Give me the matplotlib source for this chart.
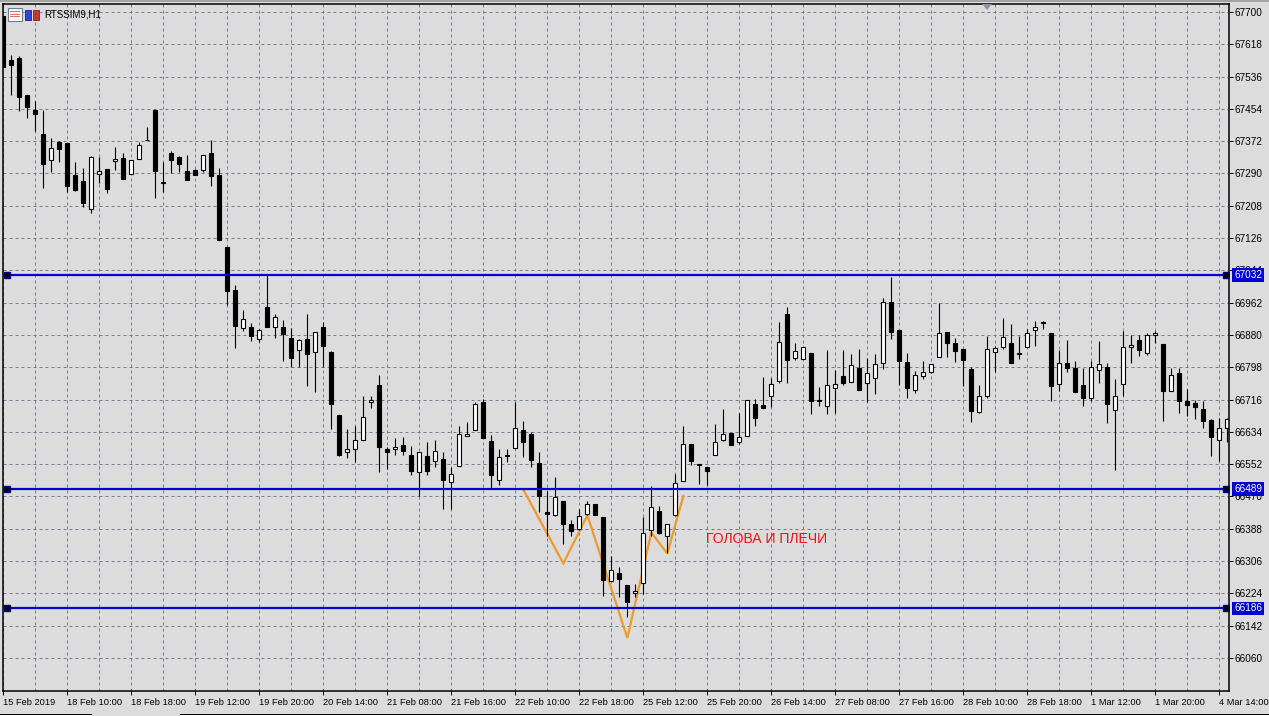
import matplotlib
matplotlib.use("Agg")
import matplotlib.pyplot as plt
from matplotlib.patches import Rectangle
import numpy as np

opens = [67689,67577,67582,67488,67452,67389,67325,67371,67366,67287,
         67272,67200,67289,67300,67322,67328,67288,67327,67376,67452,
         67267,67342,67331,67297,67299,67298,67341,67285,67102,66993,
         66897,66901,66870,66952,66901,66901,66873,66842,66870,66837,
         66901,66837,66677,66583,66591,66613,66710,66752,66591,66591,
         66601,66576,66533,66573,66561,66566,66507,66547,66623,66638,
         66710,66611,66511,66575,66593,66639,66629,66555,66431,66423,
         66459,66401,66388,66426,66451,66417,66256,66276,66246,66225,
         66251,66385,66432,66370,66423,66509,66604,66552,66545,66575,
         66613,66630,66607,66623,66705,66701,66725,66763,66932,66821,
         66818,66833,66714,66699,66745,66776,66760,66795,66758,66770,
         66809,66964,66893,66812,66740,66776,66786,66824,66888,66860,
         66843,66794,66684,66725,66837,66849,66860,66835,66850,66892,
         66913,66884,66755,66809,66797,66752,66720,66791,66799,66689,
         66755,66849,66868,66834,66880,66858,66738,66784,66713,66706,
         66693,66665,66613,66644]
highs = [67689,67590,67587,67488,67474,67450,67379,67373,67366,67320,
         67303,67333,67331,67300,67356,67343,67323,67371,67409,67452,
         67320,67348,67333,67338,67300,67337,67376,67303,67102,67006,
         66942,66911,66894,67034,66932,66917,66897,66869,66932,66888,
         66913,66840,66677,66642,66648,66726,66726,66777,66596,66619,
         66622,66599,66584,66607,66612,66584,66544,66648,66660,66709,
         66718,66625,66591,66591,66709,66662,66634,66584,66483,66520,
         66459,66411,66439,66458,66452,66417,66319,66291,66246,66248,
         66419,66497,66445,66401,66526,66650,66604,66553,66545,66655,
         66691,66630,66681,66715,66718,66774,66770,66914,66952,66860,
         66850,66833,66747,66841,66792,66841,66831,66843,66821,66831,
         66973,67026,66893,66835,66789,66815,66807,66961,66888,66873,
         66843,66799,66754,66876,66852,66924,66907,66876,66894,66916,
         66916,66884,66841,66866,66815,66796,66813,66864,66809,66767,
         66891,66881,66879,66884,66891,66858,66795,66795,66742,66716,
         66711,66666,66669,66670]
lows = [67560,67488,67448,67431,67397,67253,67293,67319,67243,67245,
        67205,67189,67265,67240,67298,67276,67288,67327,67374,67227,
        67244,67291,67293,67273,67286,67293,67258,67120,66957,66847,
        66890,66864,66862,66899,66872,66814,66798,66798,66750,66735,
        66798,66641,66572,66567,66557,66613,66694,66532,66539,66575,
        66575,66524,66470,66524,66544,66437,66437,66547,66623,66638,
        66618,66492,66499,66557,66593,66570,66544,66430,66369,66420,
        66349,66369,66386,66424,66422,66217,66255,66215,66163,66215,
        66222,66369,66374,66327,66423,66509,66549,66501,66498,66575,
        66610,66600,66602,66623,66650,66694,66696,66758,66758,66816,
        66818,66679,66699,66679,66681,66754,66760,66740,66710,66730,
        66793,66869,66753,66719,66732,66767,66783,66824,66825,66810,
        66750,66660,66682,66720,66787,66845,66809,66818,66850,66853,
        66894,66712,66737,66786,66735,66699,66711,66757,66656,66536,
        66725,66809,66826,66829,66859,66661,66737,66682,66673,66666,
        66644,66572,66561,66608]
closes = [67560,67565,67484,67458,67441,67314,67355,67352,67258,67249,
          67215,67332,67297,67250,67327,67276,67323,67363,67374,67296,
          67265,67324,67314,67273,67286,67337,67283,67122,66991,66902,
          66921,66877,66893,66899,66926,66882,66821,66867,66831,66888,
          66852,66704,66575,66590,66614,66672,66715,66595,66583,66595,
          66585,66534,66583,66534,66586,66511,66527,66629,66629,66705,
          66618,66524,66571,66573,66644,66609,66562,66471,66426,66469,
          66400,66382,66421,66451,66424,66258,66284,66260,66202,66231,
          66378,66444,66376,66400,66505,66604,66560,66549,66534,66609,
          66629,66600,66620,66714,66669,66694,66756,66863,66816,66840,
          66850,66712,66711,66754,66756,66759,66804,66740,66784,66807,
          66963,66887,66814,66745,66779,66787,66807,66886,66859,66839,
          66816,66687,66726,66845,66847,66875,66809,66832,66885,66901,
          66910,66750,66809,66796,66735,66720,66799,66806,66704,66726,
          66850,66855,66842,66879,66885,66737,66779,66712,66702,66697,
          66661,66621,66644,66667]

price_ticks = [67700,67618,67536,67454,67372,67290,67208,67126,67044,66962,66880,
               66798,66716,66634,66552,66470,66388,66306,66224,66142,66060]
date_labels = ["15 Feb 2019","18 Feb 10:00","18 Feb 18:00","19 Feb 12:00","19 Feb 20:00",
               "20 Feb 14:00","21 Feb 08:00","21 Feb 16:00","22 Feb 10:00","22 Feb 18:00",
               "25 Feb 12:00","25 Feb 20:00","26 Feb 14:00","27 Feb 08:00","27 Feb 16:00",
               "28 Feb 10:00","28 Feb 18:00","1 Mar 12:00","1 Mar 20:00","4 Mar 14:00"]
levels = [67032, 66489, 66186]
pattern_bars = [65, 70, 73, 78, 81, 83, 85]
pattern_prices = [66487, 66300, 66422, 66111, 66378, 66325, 66471]

W, H = 1269, 716
BG = "#dcdcdc"
BLUE = "#0000cd"
FONT = "Liberation Sans"

fig = plt.figure(figsize=(W / 100, H / 100), dpi=100, facecolor=BG)
ax = fig.add_axes([3 / W, (H - 691) / H, (1229 - 3) / W, (691 - 4) / H], facecolor=BG)

# one bar is 8 pixels, 0.3939 pixels per point of price
ax.set_xlim(-0.04, 153.2)
ax.set_ylim(65976, 67720.1)

# grid
ax.set_axisbelow(True)
ax.set_yticks(price_ticks)
ax.set_xticks(np.arange(0, len(date_labels) * 8, 8))
ax.set_xticks(np.arange(4, 156, 8), minor=True)
ax.set_xticklabels(date_labels, ha="left", fontsize=6.7, family=FONT)
ax.grid(True, which="both", color="#727c8a", lw=0.72, ls=(0, (3, 3)))
ax.yaxis.tick_right()
ax.tick_params(axis="y", length=3, width=0.72, pad=1, labelsize=7.2, labelfontfamily=FONT)
ax.tick_params(axis="x", which="major", length=3, width=0.72, pad=2)
ax.tick_params(axis="x", which="minor", length=0)
for s in ax.spines.values():
    s.set_linewidth(1.1)
    s.set_color("black")

# head and shoulders line goes under the candles
ax.plot(pattern_bars, pattern_prices, color="#ee9a2c", lw=1.6, zorder=1.5, solid_joinstyle="miter")

# candles
x = np.arange(len(opens))
o = np.array(opens)
c = np.array(closes)
top = np.maximum(o, c)
bottom = np.minimum(o, c)
up = c > o
ax.vlines(x, lows, highs, color="black", lw=0.8, zorder=2)
ax.bar(x[up], (top - bottom)[up], bottom=bottom[up], width=0.5, facecolor="white",
       edgecolor="black", lw=0.8, zorder=2.2)
ax.bar(x[~up], (top - bottom)[~up], bottom=bottom[~up], width=0.5, facecolor="black",
       edgecolor="black", lw=0.8, zorder=2.2)

# level lines with their end squares and price boxes
trans = ax.get_yaxis_transform()
for lv in levels:
    ax.axhline(lv, color=BLUE, lw=1.6, zorder=4)
    ax.plot([0.46, 152.8], [lv, lv], ls="none", marker="s", ms=4.6, mfc="black", mec="#00008b",
            mew=1, zorder=5)
    ax.text(1234 / 1226 - 3 / 1226, lv, str(lv), transform=trans, color="white", fontsize=7.2,
            family=FONT, va="center", ha="left", zorder=6, clip_on=False,
            bbox=dict(facecolor=BLUE, edgecolor="none", boxstyle="square,pad=0.17"))

ax.text(706 / 8 - 0.41, 66363, "ГОЛОВА И ПЛЕЧИ", color="#ee1111", fontsize=10.1, family=FONT,
        va="center", ha="left", zorder=3)


def px_rect(x0, y0, w, h, **kw):
    fig.add_artist(Rectangle((x0 / W, 1 - (y0 + h) / H), w / W, h / H, transform=fig.transFigure, **kw))


# window chrome: top band, bottom tabs, scroll marker
px_rect(0, 0, W, 2, facecolor="#a3a3a3", edgecolor="none")
px_rect(0, 714, 92, 2, facecolor="white", edgecolor="none")
px_rect(0, 713.5, 92, 1, facecolor="black", edgecolor="none")
px_rect(180, 714, W - 180, 2, facecolor="white", edgecolor="none")
px_rect(180, 713.5, W - 180, 1, facecolor="black", edgecolor="none")
fig.add_artist(plt.Polygon([(982 / W, 1 - 4 / H), (992 / W, 1 - 4 / H), (987 / W, 1 - 10 / H)],
                           transform=fig.transFigure, facecolor="#8a96a8", edgecolor="none"))

# toolbar icons and symbol name
px_rect(7.5, 8.5, 14, 12, facecolor="white", edgecolor="#6b7a99", lw=0.8)
for yy in (11, 13.5, 16):
    px_rect(9.5, yy, 10, 1.2, facecolor="#e0705f", edgecolor="none")
px_rect(24.5, 10, 6, 10, facecolor="#3344dd", edgecolor="#1a2288", lw=0.6)
px_rect(33, 10, 6, 10, facecolor="#cc3333", edgecolor="#882222", lw=0.6)
fig.text(44 / W, 1 - 14.5 / H, "RTSSIM9,H1", fontsize=7, family=FONT, va="center", ha="left", color="black")

fig.savefig("out.png", dpi=100, facecolor=BG)
